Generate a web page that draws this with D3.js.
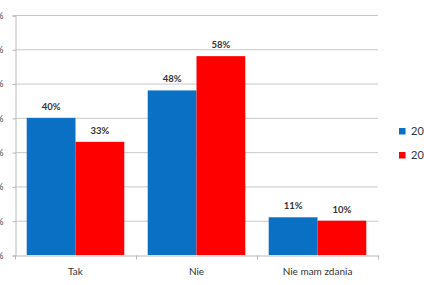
<!DOCTYPE html>
<html>
<head>
<meta charset="utf-8">
<script src="https://cdn.jsdelivr.net/npm/d3@7"></script>
<style>
  body { margin: 0; background: #fff; }
  svg { display: block; font-family: Lato, "Open Sans", sans-serif; }
</style>
</head>
<body>
<div id="chart"></div>
<script>
// chart data
var categories = ['Tak', 'Nie', 'Nie mam zdania'];
var seriesNames = ['2012', '2013'];
var values2012 = [40, 48, 11];
var values2013 = [33, 58, 10];
var yTicks = [0, 10, 20, 30, 40, 50, 60, 70];
var colors = ['#0a70c4', '#fe0000'];

var width = 424, height = 285;
var plot = {left: 15, right: 378, top: 15, bottom: 255};

var svg = d3.select('#chart')
  .append('svg')
  .attr('width', width)
  .attr('height', height);

var y = d3.scaleLinear()
  .domain([0, 70])
  .range([plot.bottom, plot.top]);

var x0 = d3.scaleBand()
  .domain(categories)
  .range([plot.left, plot.right]);

var x1 = d3.scaleBand()
  .domain(seriesNames)
  .range([0, x0.bandwidth()])
  .paddingOuter(0.24);

// gridlines
svg.append('g')
  .selectAll('line')
  .data(yTicks.slice(1))
  .enter().append('line')
  .attr('x1', plot.left)
  .attr('x2', plot.right)
  .attr('y1', function (d) { return y(d) + 0.5 })
  .attr('y2', function (d) { return y(d) + 0.5 })
  .attr('stroke', '#c8c8c8')
  .attr('stroke-width', 1);

// y axis (labels are cut off by the left edge, as in the original)
var yAxis = svg.append('g')
  .attr('transform', 'translate(' + (plot.left + 0.5) + ',0.5)')
  .call(d3.axisLeft(y).tickValues(yTicks).tickSize(3).tickPadding(9)
    .tickFormat(function (d) { return d + '%' }));
yAxis.selectAll('path, line').attr('stroke', '#b8b8b8');
yAxis.selectAll('text').attr('font-size', 9).attr('fill', '#404040')
  .attr('font-family', 'Lato, sans-serif');

// bars
var rows = categories.map(function (c, i) {
  return {cat: c, vals: [values2012[i], values2013[i]]};
});

var groups = svg.append('g')
  .selectAll('g')
  .data(rows)
  .enter().append('g')
  .attr('transform', function (d) { return 'translate(' + x0(d.cat) + ',0)' });

groups.selectAll('rect')
  .data(function (d) { return d.vals.map(function (v, j) { return {s: seriesNames[j], v: v, j: j} }) })
  .enter().append('rect')
  .attr('x', function (d) { return x1(d.s) })
  .attr('y', function (d) { return y(d.v) })
  .attr('width', x1.bandwidth())
  .attr('height', function (d) { return y(0) - y(d.v) })
  .attr('fill', function (d) { return colors[d.j] });

groups.selectAll('text')
  .data(function (d) { return d.vals.map(function (v, j) { return {s: seriesNames[j], v: v} }) })
  .enter().append('text')
  .attr('x', function (d) { return x1(d.s) + x1.bandwidth() / 2 })
  .attr('y', function (d) { return y(d.v) - 8 })
  .attr('text-anchor', 'middle')
  .attr('font-size', 9.5)
  .attr('font-weight', 'bold')
  .attr('fill', '#333')
  .text(function (d) { return d.v + '%' });

// x axis
var xAxis = svg.append('g')
  .attr('transform', 'translate(0,' + (plot.bottom + 0.5) + ')')
  .call(d3.axisBottom(x0).tickSize(0).tickPadding(12));
xAxis.select('path').attr('stroke', '#b8b8b8');
xAxis.selectAll('text').attr('font-size', 10).attr('fill', '#333')
  .attr('font-family', 'Lato, sans-serif');
xAxis.selectAll('.sep')
  .data(d3.range(categories.length + 1))
  .enter().append('line')
  .attr('class', 'sep')
  .attr('x1', function (i) { return Math.round(plot.left + i * x0.step()) + 0.5 })
  .attr('x2', function (i) { return Math.round(plot.left + i * x0.step()) + 0.5 })
  .attr('y1', 0)
  .attr('y2', 4)
  .attr('stroke', '#b8b8b8');

// legend (cut off by the right edge, as in the original)
var legend = svg.append('g')
  .selectAll('g')
  .data(seriesNames)
  .enter().append('g')
  .attr('transform', function (d, i) { return 'translate(399,' + (128 + i * 24) + ')' });
legend.append('rect')
  .attr('width', 6.5)
  .attr('height', 6.5)
  .attr('fill', function (d, i) { return colors[i] });
legend.append('text')
  .attr('x', 12)
  .attr('y', 7)
  .attr('font-size', 11)
  .attr('fill', '#333')
  .text(function (d) { return d });
</script>
</body>
</html>
